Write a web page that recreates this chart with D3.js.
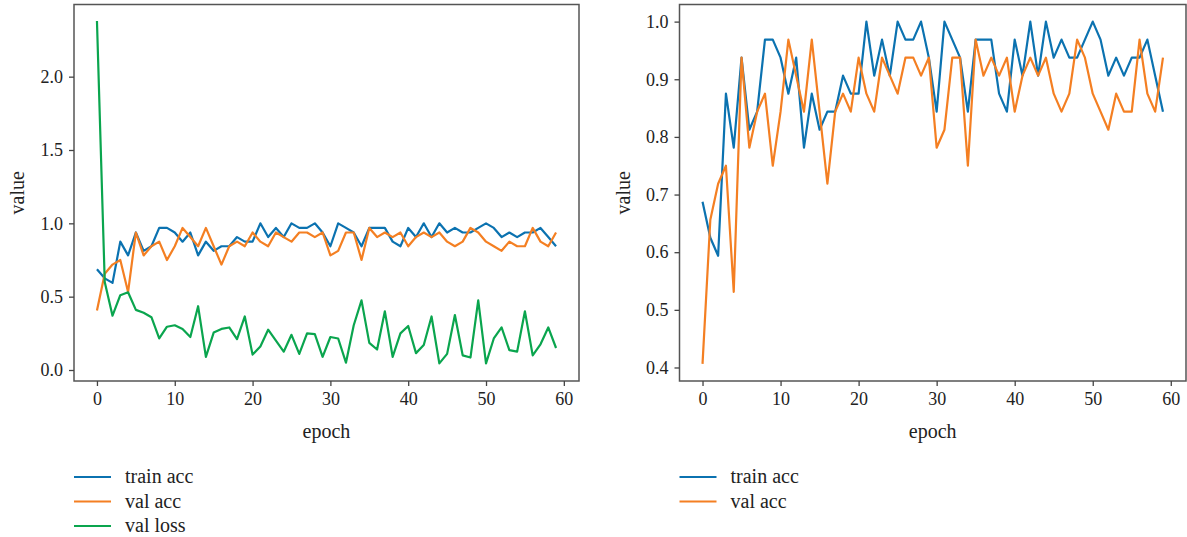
<!DOCTYPE html>
<html>
<head>
<meta charset="utf-8">
<script src="https://cdn.jsdelivr.net/npm/d3@7"></script>
<style>
  body { margin: 0; background: #fff; }
  svg text { font-family: "Liberation Serif", "DejaVu Serif", serif; fill: #222; }
</style>
</head>
<body>
<div id="chart"></div>
<script>
const width = 1187, height = 537;

// values
const epochs = d3.range(60);
const trainAcc = [0.6875, 0.625, 0.59375, 0.875, 0.78125, 0.9375, 0.8125, 0.84375, 0.96875, 0.96875,
  0.9375, 0.875, 0.9375, 0.78125, 0.875, 0.8125, 0.84375, 0.84375, 0.90625, 0.875,
  0.875, 1.0, 0.90625, 0.96875, 0.90625, 1.0, 0.96875, 0.96875, 1.0, 0.9375,
  0.84375, 1.0, 0.96875, 0.9375, 0.84375, 0.96875, 0.96875, 0.96875, 0.875, 0.84375,
  0.96875, 0.90625, 1.0, 0.90625, 1.0, 0.9375, 0.96875, 0.9375, 0.9375, 0.96875,
  1.0, 0.96875, 0.90625, 0.9375, 0.90625, 0.9375, 0.9375, 0.96875, 0.90625, 0.84375];
const valAcc = [0.40625, 0.65625, 0.71875, 0.75, 0.53125, 0.9375, 0.78125, 0.84375, 0.875, 0.75,
  0.84375, 0.96875, 0.90625, 0.84375, 0.96875, 0.84375, 0.71875, 0.84375, 0.875, 0.84375,
  0.9375, 0.875, 0.84375, 0.9375, 0.90625, 0.875, 0.9375, 0.9375, 0.90625, 0.9375,
  0.78125, 0.8125, 0.9375, 0.9375, 0.75, 0.96875, 0.90625, 0.9375, 0.90625, 0.9375,
  0.84375, 0.90625, 0.9375, 0.90625, 0.9375, 0.875, 0.84375, 0.875, 0.96875, 0.9375,
  0.875, 0.84375, 0.8125, 0.875, 0.84375, 0.84375, 0.96875, 0.875, 0.84375, 0.9375];
const valLoss = [2.38, 0.6, 0.37, 0.51, 0.53, 0.41, 0.39, 0.36, 0.215, 0.295,
  0.305, 0.28, 0.225, 0.435, 0.09, 0.255, 0.28, 0.29, 0.21, 0.365,
  0.105, 0.16, 0.275, 0.2, 0.125, 0.24, 0.11, 0.25, 0.245, 0.09,
  0.225, 0.215, 0.05, 0.305, 0.475, 0.185, 0.14, 0.4, 0.09, 0.25,
  0.3, 0.115, 0.17, 0.365, 0.045, 0.11, 0.375, 0.1, 0.085, 0.475,
  0.045, 0.215, 0.29, 0.135, 0.125, 0.4, 0.1, 0.175, 0.29, 0.15];

const xTicks = [0, 10, 20, 30, 40, 50, 60];
const leftYTicks = [0.0, 0.5, 1.0, 1.5, 2.0];
const rightYTicks = [0.4, 0.5, 0.6, 0.7, 0.8, 0.9, 1.0];

const colors = {"train acc": "#0b72b0", "val acc": "#f47f22", "val loss": "#0aa54e"};

const svg = d3.select("#chart").append("svg")
    .attr("width", width)
    .attr("height", height);

function drawPanel(opts) {
    const g = svg.append("g");
    const x = d3.scaleLinear().domain([-2.95, 61.95]).range([opts.left, opts.right]);
    const y = d3.scaleLinear().domain(opts.yDomain).range([opts.bottom, opts.top]);

    const line = d3.line()
        .x(function(d, i){ return x(epochs[i]); })
        .y(function(d){ return y(d); });

    opts.series.forEach(function(s){
        g.append("path")
            .datum(s.values)
            .attr("fill", "none")
            .attr("stroke", colors[s.name])
            .attr("stroke-width", 2.2)
            .attr("stroke-linejoin", "round")
            .attr("d", line);
    });

    // frame
    g.append("rect")
        .attr("x", opts.left)
        .attr("y", opts.top)
        .attr("width", opts.right - opts.left)
        .attr("height", opts.bottom - opts.top)
        .attr("fill", "none")
        .attr("stroke", "#555")
        .attr("stroke-width", 1.5);

    const xAxis = g.append("g")
        .attr("transform", "translate(0," + opts.bottom + ")")
        .call(d3.axisBottom(x).tickValues(xTicks).tickSize(5).tickPadding(6).tickFormat(d3.format("d")));
    xAxis.select(".domain").remove();
    xAxis.selectAll("line").attr("stroke", "#444").attr("stroke-width", 1.3);
    xAxis.selectAll("text").style("font-size", "18px").style("fill", "#222");

    const yAxis = g.append("g")
        .attr("transform", "translate(" + opts.left + ",0)")
        .call(d3.axisLeft(y).tickValues(opts.yTicks).tickSize(5).tickPadding(6).tickFormat(d3.format(".1f")));
    yAxis.select(".domain").remove();
    yAxis.selectAll("line").attr("stroke", "#444").attr("stroke-width", 1.3);
    yAxis.selectAll("text").style("font-size", "18px").style("fill", "#222");

    g.append("text")
        .attr("x", (opts.left + opts.right) / 2)
        .attr("y", opts.bottom + 57)
        .attr("text-anchor", "middle")
        .style("font-size", "20px")
        .text("epoch");

    g.append("text")
        .attr("transform", "translate(" + (opts.left - 50) + "," + ((opts.top + opts.bottom) / 2) + ") rotate(-90)")
        .attr("text-anchor", "middle")
        .style("font-size", "20px")
        .text("value");

    // legend below the panel
    const leg = g.selectAll(".leg")
        .data(opts.series)
        .enter()
        .append("g")
        .attr("transform", function(d, i){ return "translate(" + opts.left + "," + (477 + i * 24.5) + ")"; });
    leg.append("line")
        .attr("x1", 0).attr("x2", 37)
        .attr("stroke", function(d){ return colors[d.name]; })
        .attr("stroke-width", 2.2);
    leg.append("text")
        .attr("x", 51)
        .attr("dy", "0.32em")
        .style("font-size", "20px")
        .text(function(d){ return d.name; });
}

drawPanel({
    left: 74, right: 579, top: 4.5, bottom: 381,
    yDomain: [-0.075, 2.492],
    yTicks: leftYTicks,
    series: [
        {name: "train acc", values: trainAcc},
        {name: "val acc", values: valAcc},
        {name: "val loss", values: valLoss}
    ]
});

drawPanel({
    left: 679.5, right: 1186, top: 4.5, bottom: 381,
    yDomain: [0.37656, 1.02969],
    yTicks: rightYTicks,
    series: [
        {name: "train acc", values: trainAcc},
        {name: "val acc", values: valAcc}
    ]
});
</script>
</body>
</html>
